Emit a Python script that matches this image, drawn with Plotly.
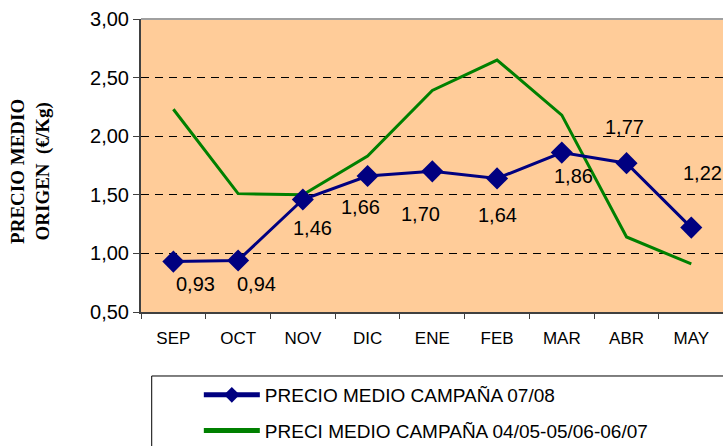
import plotly.graph_objects as go

months = ["SEP", "OCT", "NOV", "DIC", "ENE", "FEB", "MAR", "ABR", "MAY"]
precio_0708 = [0.93, 0.94, 1.46, 1.66, 1.70, 1.64, 1.86, 1.77, 1.22]
precio_hist = [2.23, 1.51, 1.50, 1.83, 2.39, 2.65, 2.18, 1.14, 0.91]
label_text = ["0,93", "0,94", "1,46", "1,66", "1,70", "1,64", "1,86", "1,77", "1,22"]
y_ticks = [0.5, 1.0, 1.5, 2.0, 2.5, 3.0]
y_tick_text = ["0,50", "1,00", "1,50", "2,00", "2,50", "3,00"]

# pixel offsets of the data labels (styling)
label_dx = [22, 18, 10, -7, -12, 0, 12, -2, 11]
label_dy = [-22, -24, -29, -31, -43, -37, -23, 36, 55]

name_a = "PRECIO MEDIO CAMPAÑA 07/08"
name_b = "PRECI MEDIO CAMPAÑA 04/05-05/06-06/07"

fig = go.Figure()
fig.add_trace(go.Scatter(
    x=months, y=precio_hist, mode="lines", name=name_b,
    line=dict(color="#008000", width=3), legendgroup="b", legendrank=2,
))
fig.add_trace(go.Scatter(
    x=months, y=precio_0708, mode="lines+markers", name=name_a,
    line=dict(color="#000080", width=3),
    marker=dict(symbol="diamond", size=17, color="#000080"),
    legendgroup="a", legendrank=1,
))

FONT = "Liberation Sans, Arial, sans-serif"
annotations = []
for m, v, t, dx, dy in zip(months, precio_0708, label_text, label_dx, label_dy):
    annotations.append(dict(
        x=m, y=v, xref="x", yref="y", text=t, showarrow=False,
        xshift=dx, yshift=dy, font=dict(family=FONT, size=20, color="#000000"),
    ))

annotations.append(dict(
    x=-0.189, y=0.478, xref="paper", yref="paper",
    text="<b>PRECIO MEDIO<br>ORIGEN  (€/Kg)</b>", showarrow=False, textangle=-90,
    font=dict(family="Liberation Serif, Times New Roman, serif", size=19, color="#000000"),
    xanchor="center", yanchor="middle",
))

fig.update_layout(
    width=723, height=446,
    margin=dict(l=141, r=0, t=19, b=134, autoexpand=False),
    paper_bgcolor="#ffffff",
    plot_bgcolor="#FFCC99",
    separators=",.",
    showlegend=True,
    legend=dict(
        xref="container", yref="container",
        x=0.275, y=0.157, xanchor="left", yanchor="top",
        bgcolor="rgba(0,0,0,0)", borderwidth=0,
        font=dict(family=FONT, size=19, color="#000000"),
        itemwidth=56, itemsizing="constant", traceorder="grouped", tracegroupgap=8,
    ),
    annotations=annotations,
    shapes=[
        dict(type="rect", xref="paper", yref="paper", x0=0.0184, x1=1.05, y0=-0.6, y1=-0.2184,
             line=dict(color="#000000", width=1), fillcolor="#ffffff", layer="below"),
        dict(type="line", xref="paper", yref="paper", x0=0, x1=1, y0=1, y1=1,
             line=dict(color="#a0a0a0", width=2), layer="above"),
    ],
)

fig.update_xaxes(
    range=[-0.5, 8.49], tickson="boundaries", ticks="outside", ticklen=5,
    tickcolor="#404040", showline=True, linecolor="#404040", linewidth=2,
    showgrid=False, tickfont=dict(family=FONT, size=17, color="#000000"),
    ticklabelstandoff=10, automargin=False,
)
fig.update_yaxes(
    range=[0.5, 3.0], tickvals=y_ticks, ticktext=y_tick_text, ticks="outside", ticklen=6,
    tickcolor="#404040", showline=True, linecolor="#404040", linewidth=2,
    showgrid=True, gridcolor="#000000", gridwidth=1, griddash="8px,6px",
    zeroline=False, tickfont=dict(family=FONT, size=20, color="#000000"), automargin=False,
)

fig.write_html(
    "out.html",
    config={"displayModeBar": False},
    post_script="document.body.style.margin='0';document.body.style.overflow='hidden';",
)
